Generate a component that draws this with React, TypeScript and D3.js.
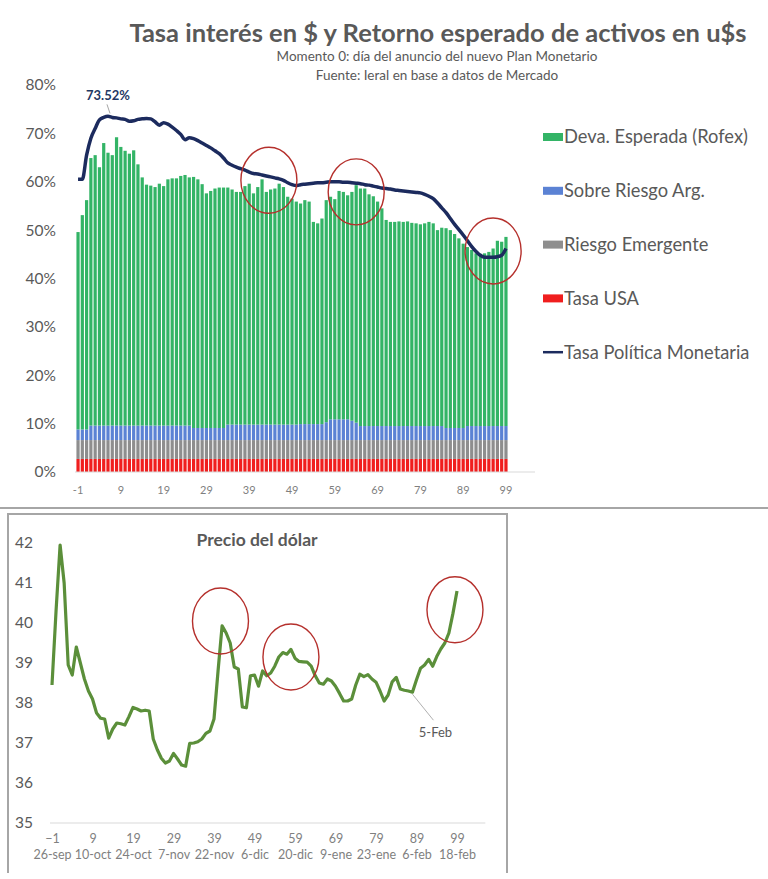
import * as d3 from "d3";
import { useEffect, useRef } from "react";

// day -1 .. 99 relative to the announcement (momento 0)
const days = d3.range(-1, 100);
const topTicks = [-1, 9, 19, 29, 39, 49, 59, 69, 79, 89, 99];
const dateTicks = ["26-sep", "10-oct", "24-oct", "7-nov", "22-nov", "6-dic", "20-dic", "9-ene", "23-ene", "6-feb", "18-feb"];
const pctTicks = [0, 10, 20, 30, 40, 50, 60, 70, 80];
const usdTicks = [35, 36, 37, 38, 39, 40, 41, 42];

// stacked components, % (bottom to top)
const tasaUSA = [
  2.7, 2.7, 2.7, 2.7, 2.7, 2.7, 2.7, 2.7, 2.7, 2.7,
  2.7, 2.7, 2.7, 2.7, 2.7, 2.7, 2.7, 2.7, 2.7, 2.7,
  2.7, 2.7, 2.7, 2.7, 2.7, 2.7, 2.7, 2.7, 2.7, 2.7,
  2.7, 2.7, 2.7, 2.7, 2.7, 2.7, 2.7, 2.7, 2.7, 2.7,
  2.7, 2.7, 2.7, 2.7, 2.7, 2.7, 2.7, 2.7, 2.7, 2.7,
  2.7, 2.7, 2.7, 2.7, 2.7, 2.7, 2.7, 2.7, 2.7, 2.7,
  2.7, 2.7, 2.7, 2.7, 2.7, 2.7, 2.7, 2.7, 2.7, 2.7,
  2.7, 2.7, 2.7, 2.7, 2.7, 2.7, 2.7, 2.7, 2.7, 2.7,
  2.7, 2.7, 2.7, 2.7, 2.7, 2.7, 2.7, 2.7, 2.7, 2.7,
  2.7, 2.7, 2.7, 2.7, 2.7, 2.7, 2.7, 2.7, 2.7, 2.7,
  2.7,
];
const riesgoEmergente = [
  3.9, 3.9, 3.9, 3.9, 3.9, 3.9, 3.9, 3.9, 3.9, 3.9,
  3.9, 3.9, 3.9, 3.9, 3.9, 3.9, 3.9, 3.9, 3.9, 3.9,
  3.9, 3.9, 3.9, 3.9, 3.9, 3.9, 3.9, 3.9, 3.9, 3.9,
  3.9, 3.9, 3.9, 3.9, 3.9, 3.9, 3.9, 3.9, 3.9, 3.9,
  3.9, 3.9, 3.9, 3.9, 3.9, 3.9, 3.9, 3.9, 3.9, 3.9,
  3.9, 3.9, 3.9, 3.9, 3.9, 3.9, 3.9, 3.9, 3.9, 3.9,
  3.9, 3.9, 3.9, 3.9, 3.9, 3.9, 3.9, 3.9, 3.9, 3.9,
  3.9, 3.9, 3.9, 3.9, 3.9, 3.9, 3.9, 3.9, 3.9, 3.9,
  3.9, 3.9, 3.9, 3.9, 3.9, 3.9, 3.9, 3.9, 3.9, 3.9,
  3.9, 3.9, 3.9, 3.9, 3.9, 3.9, 3.9, 3.9, 3.9, 3.9,
  3.9,
];
const sobreRiesgo = [
  2.2, 2.2, 2.2, 3.0, 3.0, 3.0, 3.0, 3.0, 3.0, 3.0,
  3.0, 3.0, 3.0, 3.0, 3.0, 3.0, 3.0, 3.0, 3.0, 3.0,
  3.0, 3.0, 3.0, 3.0, 3.0, 3.0, 3.0, 2.5, 2.5, 2.5,
  2.5, 2.5, 2.5, 2.5, 2.5, 3.2, 3.2, 3.2, 3.2, 3.2,
  3.2, 3.2, 3.2, 3.2, 3.2, 3.2, 3.2, 3.2, 3.2, 3.2,
  3.2, 3.2, 3.3, 3.3, 3.3, 3.3, 3.3, 3.3, 3.7, 4.3,
  4.3, 4.3, 4.3, 4.3, 4.0, 3.6, 2.9, 2.9, 2.9, 2.9,
  2.9, 2.9, 2.9, 2.9, 2.9, 2.9, 2.9, 2.9, 2.9, 2.9,
  2.9, 2.9, 2.9, 2.9, 2.9, 2.9, 2.5, 2.5, 2.5, 2.5,
  2.5, 2.9, 2.9, 2.9, 2.9, 2.9, 2.9, 2.9, 2.9, 2.9,
  2.9,
];
const devaEsperada = [
  40.8, 44.3, 47.4, 55.3, 55.9, 53.4, 58.4, 56.4, 55.9, 59.6,
  57.6, 56.8, 56.2, 56.9, 54.0, 51.3, 49.8, 49.6, 49.3, 50.0,
  49.5, 50.9, 51.1, 51.1, 51.6, 51.8, 51.3, 51.9, 51.4, 50.4,
  48.5, 49.0, 49.5, 49.7, 49.7, 49.0, 48.6, 48.1, 48.1, 49.3,
  49.8, 47.8, 49.1, 50.7, 48.1, 48.6, 48.8, 49.8, 49.1, 47.1,
  46.7, 46.1, 45.6, 46.3, 46.0, 41.8, 41.5, 42.5, 45.9, 46.0,
  45.5, 47.2, 47.0, 46.3, 47.3, 49.1, 49.1, 49.1, 47.9, 47.5,
  46.4, 45.0, 42.6, 42.2, 42.2, 42.3, 42.2, 42.3, 42.0, 41.9,
  41.7, 41.9, 42.2, 41.9, 40.5, 41.0, 41.3, 40.9, 40.1, 39.2,
  38.1, 37.0, 36.4, 35.7, 35.6, 35.7, 36.0, 36.7, 38.3, 38.1,
  39.1,
];
const tasaPolitica = [
  60.5, 60.5, 65.5, 69.0, 71.0, 72.8, 73.3, 73.52, 73.3, 73.2,
  73.0, 72.9, 72.5, 72.6, 72.9, 73.0, 73.1, 73.0, 72.4, 71.7,
  72.2, 71.9, 71.3, 70.6, 69.8, 68.7, 69.1, 68.9, 68.5, 68.0,
  67.5, 67.0, 66.4, 65.8, 64.9, 63.9, 63.4, 63.0, 62.7, 62.4,
  62.0, 61.7, 61.6, 61.4, 61.2, 61.0, 60.8, 60.6, 60.3, 59.8,
  59.4, 59.2, 59.4, 59.5, 59.6, 59.7, 59.8, 59.8, 59.9, 60.0,
  60.0, 60.0, 59.9, 59.9, 59.8, 59.7, 59.6, 59.4, 59.3, 59.1,
  58.9, 58.7, 58.6, 58.5, 58.3, 58.2, 58.1, 58.0, 57.9, 57.8,
  57.7, 57.4, 57.0, 56.5, 55.6, 54.6, 53.6, 52.4, 51.2, 50.1,
  49.0, 47.8, 46.6, 45.6, 44.8, 44.4, 44.4, 44.4, 44.5, 44.8,
  46.2,
];
const precioDolar = [
  38.45, 40.3, 41.95, 41.0, 38.95, 38.7, 39.4, 39.0, 38.6, 38.3,
  38.1, 37.75, 37.62, 37.6, 37.12, 37.35, 37.5, 37.48, 37.45, 37.66,
  37.89, 37.85, 37.8, 37.82, 37.8, 37.1, 36.83, 36.62, 36.5, 36.55,
  36.74, 36.6, 36.45, 36.42, 36.99, 37.0, 37.03, 37.1, 37.24, 37.3,
  37.6, 38.8, 39.93, 39.75, 39.5, 38.9, 38.85, 37.9, 37.88, 38.68,
  38.7, 38.42, 38.8, 38.68, 38.75, 38.92, 39.15, 39.26, 39.22, 39.34,
  39.12, 39.04, 39.03, 39.02, 38.92, 38.68, 38.5, 38.47, 38.6, 38.55,
  38.42, 38.24, 38.05, 38.05, 38.1, 38.45, 38.72, 38.66, 38.71, 38.6,
  38.52, 38.3, 38.05, 38.2, 38.53, 38.64, 38.35, 38.32, 38.3, 38.27,
  38.58, 38.87, 38.95, 39.09, 38.92, 39.16, 39.35, 39.5, 39.75, 40.24,
  40.8,
];

const seriesKeys = ["tasaUSA", "riesgoEmergente", "sobreRiesgo", "devaEsperada"];
const seriesColors = ["#f01e1e", "#8e8e8e", "#5b82d4", "#33b466"];
const legendLabels = ["Deva. Esperada (Rofex)", "Sobre Riesgo Arg.", "Riesgo Emergente", "Tasa USA", "Tasa Política Monetaria"];

// red highlight circles: [day, value]
const topCircles = [[43.6, 60.3], [64, 57.9], [96, 45.7]];
const usdCircles = [[40.6, 40.05], [58, 39.15], [98.5, 40.33]];

const App = () => {
  const svgRef = useRef<SVGSVGElement | null>(null);

  useEffect(() => {
    const svg = d3.select(svgRef.current);
    svg.selectAll("*").remove();

    const font = "Lato, 'Open Sans', sans-serif";
    const gray = "#595959";
    const navy = "#1c2b5e";
    const circleRed = "#b5302c";

    // ---------- titles ----------
    svg.append("text")
      .attr("x", 438).attr("y", 42)
      .attr("text-anchor", "middle")
      .attr("font-family", font).attr("font-weight", "bold")
      .attr("font-size", 25.5).attr("fill", gray)
      .text("Tasa interés en $ y Retorno esperado de activos en u$s");
    svg.append("text")
      .attr("x", 437).attr("y", 61)
      .attr("text-anchor", "middle")
      .attr("font-family", font).attr("font-size", 13.5).attr("fill", gray)
      .text("Momento 0: día del anuncio del nuevo Plan Monetario");
    svg.append("text")
      .attr("x", 437).attr("y", 80)
      .attr("text-anchor", "middle")
      .attr("font-family", font).attr("font-size", 13.5).attr("fill", gray)
      .text("Fuente: Ieral en base a datos de Mercado");

    // ---------- top chart ----------
    const rows = days.map((d, i) => ({
      day: String(d),
      tasaUSA: tasaUSA[i],
      riesgoEmergente: riesgoEmergente[i],
      sobreRiesgo: sobreRiesgo[i],
      devaEsperada: devaEsperada[i],
    }));

    const x = d3.scaleBand()
      .domain(days.map(String))
      .range([75.9, 508.1])
      .paddingInner(0.25)
      .paddingOuter(0.125);
    const xMid = (d: number) => (x(String(d)) || 0) + x.bandwidth() / 2;
    const xLin = d3.scaleLinear().domain([-1, 99]).range([xMid(-1), xMid(99)]);
    const y = d3.scaleLinear().domain([0, 80]).range([472, 85]);

    const stacked = d3.stack<any>().keys(seriesKeys)(rows);

    svg.append("g")
      .selectAll("g")
      .data(stacked)
      .join("g")
      .attr("fill", (_, i) => seriesColors[i])
      .selectAll("rect")
      .data((s) => s)
      .join("rect")
      .attr("x", (d) => x(d.data.day) || 0)
      .attr("y", (d) => y(d[1]))
      .attr("width", x.bandwidth())
      .attr("height", (d) => y(d[0]) - y(d[1]));

    svg.append("line")
      .attr("x1", 75).attr("x2", 535)
      .attr("y1", y(0)).attr("y2", y(0))
      .attr("stroke", "#d9d9d9");

    const yAxis = svg.append("g")
      .attr("transform", "translate(56,0)")
      .call(d3.axisLeft(y).tickValues(pctTicks).tickSize(0).tickPadding(0).tickFormat((v) => `${v}%`));
    yAxis.select(".domain").remove();
    yAxis.selectAll("text")
      .attr("font-family", font).attr("font-size", 15.5).attr("fill", gray);

    const xAxis = svg.append("g")
      .attr("transform", `translate(0,${y(0)})`)
      .call(d3.axisBottom(x).tickValues(topTicks.map(String)).tickSize(0).tickPadding(14));
    xAxis.select(".domain").remove();
    xAxis.selectAll("text")
      .attr("font-family", font).attr("font-size", 11).attr("fill", "#7f7f7f");

    const line = d3.line<number>()
      .x((_, i) => xMid(days[i]))
      .y((v) => y(v))
      .curve(d3.curveMonotoneX);
    svg.append("path")
      .datum(tasaPolitica)
      .attr("d", line)
      .attr("fill", "none")
      .attr("stroke", navy)
      .attr("stroke-width", 3.5)
      .attr("stroke-linejoin", "round");

    const peakIdx = d3.maxIndex(tasaPolitica);
    const px = xMid(days[peakIdx]);
    const py = y(tasaPolitica[peakIdx]);
    svg.append("line")
      .attr("x1", px + 2).attr("y1", py - 3)
      .attr("x2", px - 1).attr("y2", py - 12)
      .attr("stroke", "#a6a6a6");
    svg.append("text")
      .attr("x", px).attr("y", py - 16)
      .attr("text-anchor", "middle")
      .attr("font-family", font).attr("font-weight", "bold")
      .attr("font-size", 13).attr("fill", "#1f3864")
      .text(`${tasaPolitica[peakIdx].toFixed(2)}%`);

    svg.append("g")
      .selectAll("ellipse")
      .data(topCircles)
      .join("ellipse")
      .attr("cx", (d) => xLin(d[0]))
      .attr("cy", (d) => y(d[1]))
      .attr("rx", 28).attr("ry", 33)
      .attr("fill", "none")
      .attr("stroke", circleRed)
      .attr("stroke-width", 1.4);

    // legend
    const legend = svg.append("g").attr("transform", "translate(543,137)");
    const legendColors = ["#33b466", "#5b82d4", "#8e8e8e", "#f01e1e"];
    legendLabels.forEach((label, i) => {
      const g = legend.append("g").attr("transform", `translate(0,${i * 53.8})`);
      if (i < 4) {
        g.append("rect").attr("x", 0).attr("y", -4).attr("width", 20).attr("height", 8).attr("fill", legendColors[i]);
      } else {
        g.append("line").attr("x1", 0).attr("x2", 20).attr("y1", 0).attr("y2", 0).attr("stroke", navy).attr("stroke-width", 2.5);
      }
      g.append("text")
        .attr("x", 21).attr("y", 0).attr("dy", "0.35em")
        .attr("font-family", font).attr("font-size", 18.3).attr("fill", gray)
        .text(label);
    });

    // ---------- separator and frame ----------
    svg.append("line")
      .attr("x1", 0).attr("x2", 768).attr("y1", 508).attr("y2", 508)
      .attr("stroke", "#a6a6a6").attr("stroke-width", 2);
    svg.append("path")
      .attr("d", "M8,873 V514 H507 V873")
      .attr("fill", "none")
      .attr("stroke", "#a6a6a6").attr("stroke-width", 2);

    // ---------- bottom chart ----------
    const x2 = d3.scaleLinear().domain([-1, 99]).range([52, 457]);
    const y2 = d3.scaleLinear().domain([35, 42]).range([823, 543]);

    svg.append("text")
      .attr("x", 257).attr("y", 546)
      .attr("text-anchor", "middle")
      .attr("font-family", font).attr("font-weight", "bold")
      .attr("font-size", 17.5).attr("fill", gray)
      .text("Precio del dólar");

    svg.append("line")
      .attr("x1", x2(-1.5)).attr("x2", x2(106))
      .attr("y1", y2(35)).attr("y2", y2(35))
      .attr("stroke", "#d9d9d9");

    const y2Axis = svg.append("g")
      .attr("transform", "translate(33,0)")
      .call(d3.axisLeft(y2).tickValues(usdTicks).tickSize(0).tickPadding(0).tickFormat(d3.format("d")));
    y2Axis.select(".domain").remove();
    y2Axis.selectAll("text")
      .attr("font-family", font).attr("font-size", 15.5).attr("fill", gray);

    const x2Axis = svg.append("g")
      .attr("transform", `translate(0,${y2(35)})`)
      .call(d3.axisBottom(x2).tickValues(topTicks).tickSize(0).tickPadding(11).tickFormat(d3.format("d")));
    x2Axis.select(".domain").remove();
    x2Axis.selectAll("text")
      .attr("font-family", font).attr("font-size", 12.5).attr("fill", "#7f7f7f");
    x2Axis.selectAll(".tick")
      .append("text")
      .attr("y", 36)
      .attr("text-anchor", "middle")
      .attr("font-family", font).attr("font-size", 12.5).attr("fill", "#7f7f7f")
      .text((_, i) => dateTicks[i]);

    const line2 = d3.line<number>()
      .x((_, i) => x2(days[i]))
      .y((v) => y2(v));
    svg.append("path")
      .datum(precioDolar)
      .attr("d", line2)
      .attr("fill", "none")
      .attr("stroke", "#5b8f3a")
      .attr("stroke-width", 3.2)
      .attr("stroke-linejoin", "round");

    // 5-Feb callout
    const febIdx = days.indexOf(88);
    const fx = x2(88);
    const fy = y2(precioDolar[febIdx]);
    svg.append("line")
      .attr("x1", fx).attr("y1", fy + 2)
      .attr("x2", fx + 21).attr("y2", fy + 28)
      .attr("stroke", "#b0b0b0");
    svg.append("text")
      .attr("x", fx + 23).attr("y", fy + 45)
      .attr("text-anchor", "middle")
      .attr("font-family", font).attr("font-size", 13).attr("fill", gray)
      .text("5-Feb");

    svg.append("g")
      .selectAll("ellipse")
      .data(usdCircles)
      .join("ellipse")
      .attr("cx", (d) => x2(d[0]))
      .attr("cy", (d) => y2(d[1]))
      .attr("rx", 28).attr("ry", 33)
      .attr("fill", "none")
      .attr("stroke", circleRed)
      .attr("stroke-width", 1.4);
  }, []);

  return (
    <div>
      <style>{"body{margin:0;background:#fff}"}</style>
      <svg ref={svgRef} width={768} height={879} style={{ display: "block" }}></svg>
    </div>
  );
};

export default App;
